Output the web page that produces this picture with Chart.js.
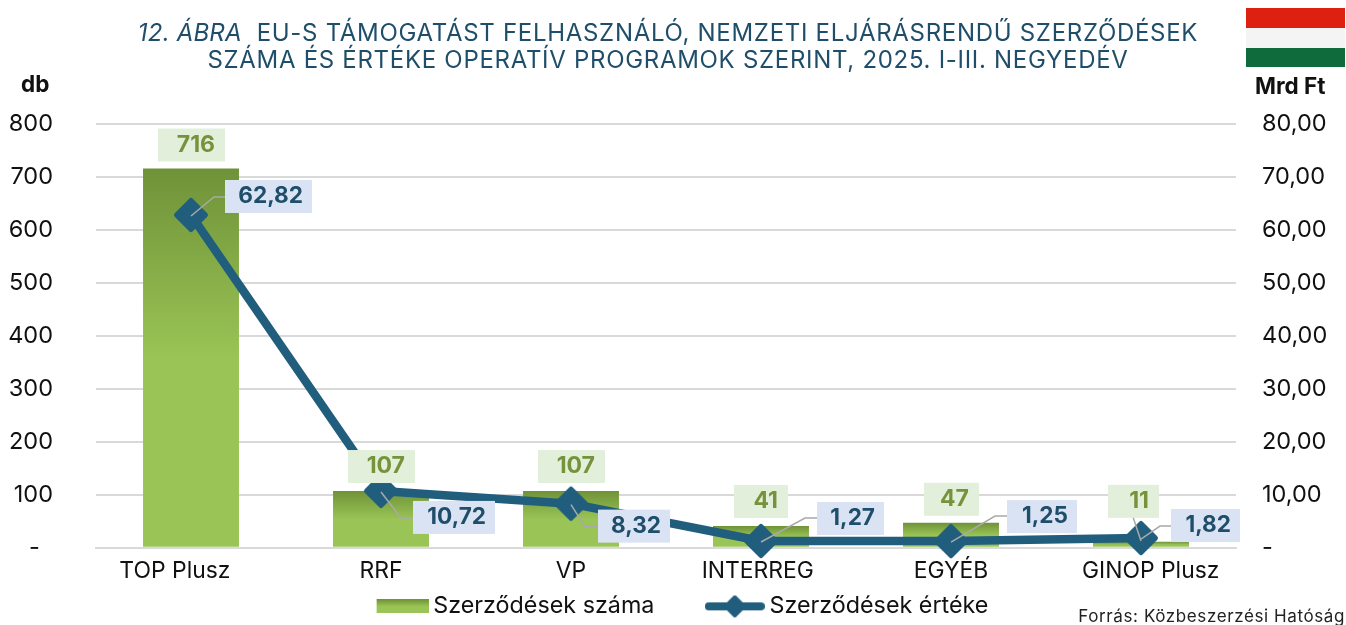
<!DOCTYPE html>
<html lang="hu"><head><meta charset="utf-8">
<style>
html,body{margin:0;padding:0;background:#fff;overflow:hidden}
#wrap{position:relative;width:1346px;height:625px;font-family:Inter,sans-serif}
#c{position:absolute;left:0;top:0}
.t{position:absolute;white-space:nowrap}
#title{left:0;width:1336px;top:19px;text-align:center;color:#1f4e6b;font-size:24px;line-height:27px;font-weight:400;letter-spacing:.7px}
#title i{letter-spacing:.2px}
#flag{position:absolute;left:1246px;top:8px;width:99px;height:59px;background:linear-gradient(#dd2010 0 20px,#f4f4f4 20px 40px,#0f6b3c 40px)}
#db{left:21px;top:70px;font-size:22.5px;font-weight:700;color:#111}
#mrd{left:1255px;top:72px;font-size:22.5px;font-weight:700;color:#111}
#src{right:1px;top:606px;font-size:17px;color:#222;letter-spacing:.6px}
</style></head><body>
<div id="wrap">
<canvas id="c" width="1346" height="625"></canvas>
<div id="title" class="t"><i>12. ÁBRA</i>&nbsp; EU-S TÁMOGATÁST FELHASZNÁLÓ, NEMZETI ELJÁRÁSRENDŰ SZERZŐDÉSEK<br>SZÁMA ÉS ÉRTÉKE OPERATÍV PROGRAMOK SZERINT, 2025. I-III. NEGYEDÉV</div>
<div id="flag"></div>
<div id="db" class="t">db</div>
<div id="mrd" class="t">Mrd Ft</div>
<div id="src" class="t">Forrás: Közbeszerzési Hatóság</div>
</div>
<script src="https://cdn.jsdelivr.net/npm/chart.js@4"></script>
<script>
const categories = ["TOP Plusz","RRF","VP","INTERREG","EGYÉB","GINOP Plusz"];
const contractCount = [716,107,107,41,47,11];
const contractValue = [62.82,10.72,8.32,1.27,1.25,1.82];
const seriesNames = ["Szerződések száma","Szerződések értéke"];

const NAVY="#215e7d", DARK="#6f9238", LIGHT="#9ac455";
const fmt2=v=>v.toFixed(2).replace('.',',');

// label box geometry, relative to the mark's anchor pixel
const countBoxes=[[-33,-40,67,33],[-33,-41,67,33],[-33,-41,67,33],[-27,-41,54,33],[-27,-40,55,33],[-33,-57,51,33,true]];
const valueBoxes=[
 {b:[34,-35,87,33],l:[[23,-18],[34,-18]]},
 {b:[32,10,82,33],l:[[20,27],[32,27]]},
 {b:[27,6,72,33],l:[[14,23],[27,23]]},
 {b:[56,-39,67,33],l:[[44,-23],[56,-23]]},
 {b:[56,-41,70,33],l:[[44,-25],[56,-25]]},
 {b:[30,-29,69,33],l:[[19,-12],[30,-12]]}
];
// whitespace that nudges the category labels off-centre as in the original layout
const tickPad=[['','     '],['',''],['',''],['',' '],['',''],['   ','']];

const labelsPlugin={id:'boxLabels',afterDatasetsDraw(chart){
  const g=chart.ctx, bars=chart.getDatasetMeta(0).data, pts=chart.getDatasetMeta(1).data;
  g.save();
  g.textBaseline='middle'; g.textAlign='right';
  g.lineWidth=1.5; g.strokeStyle='#a9a9a9';
  contractValue.forEach((v,i)=>{
    const p=pts[i], s=valueBoxes[i];
    g.beginPath(); g.moveTo(p.x,p.y+1); s.l.forEach(q=>g.lineTo(p.x+q[0],p.y+q[1])); g.stroke();
  });
  bars.forEach((b,i)=>{
    const s=countBoxes[i];
    if(s[4]){g.beginPath();g.moveTo(b.x-8,pts[i].y-21);g.lineTo(b.x,pts[i].y+3);g.stroke();}
  });
  g.font='700 23px Inter';
  contractCount.forEach((v,i)=>{
    const b=bars[i], s=countBoxes[i], x=b.x+s[0], y=b.y+s[1];
    g.fillStyle='#e2efda'; g.fillRect(x,y,s[2],s[3]);
    g.fillStyle='#76933c'; g.fillText(String(v),x+s[2]-10,y+s[3]/2);
  });
  g.font='700 22.6px Inter';
  contractValue.forEach((v,i)=>{
    const p=pts[i], s=valueBoxes[i].b, x=p.x+s[0], y=p.y+s[1];
    g.fillStyle='#dae3f3'; g.fillRect(x,y,s[2],s[3]);
    g.fillStyle='#1f4e6b'; g.fillText(fmt2(v),x+s[2]-9,y+s[3]/2);
  });
  g.restore();
},
afterLayout(chart){ const l=chart.legend; l.left+=9; l.right+=9; l.top+=3; l.bottom+=3; }
};

function barFill(ctx){
  const ch=ctx.chart;
  if(!ch.scales||!ch.scales.y||ctx.parsed===undefined) return LIGHT;
  const y=ch.scales.y, t=y.getPixelForValue(ctx.parsed.y), b=y.getPixelForValue(0);
  const gr=ch.ctx.createLinearGradient(0,t,0,b);
  gr.addColorStop(0,DARK); gr.addColorStop(.5,LIGHT); gr.addColorStop(1,LIGHT);
  return gr;
}
function diamond(x,cx,cy,r,w){
  x.fillStyle=NAVY;x.strokeStyle=NAVY;x.lineJoin='round';x.lineWidth=w;
  x.beginPath();x.moveTo(cx,cy-r);x.lineTo(cx+r,cy);x.lineTo(cx,cy+r);x.lineTo(cx-r,cy);x.closePath();x.fill();x.stroke();
}
function swatch(kind){
  const c=document.createElement('canvas'); const x=c.getContext('2d');
  if(kind===0){ c.width=60;c.height=14;
    const gr=x.createLinearGradient(0,0,0,14);gr.addColorStop(0,DARK);gr.addColorStop(.5,LIGHT);gr.addColorStop(1,LIGHT);
    x.fillStyle=gr;x.fillRect(8,0,52,14);
  } else { c.width=60;c.height=24;
    x.strokeStyle=NAVY;x.lineCap='round';x.lineWidth=8;x.beginPath();x.moveTo(4,12);x.lineTo(56,12);x.stroke();
    diamond(x,30,12,9,4);
  }
  return c;
}
function marker(){
  const c=document.createElement('canvas'); c.width=38;c.height=38;
  diamond(c.getContext('2d'),19,19,14.5,5);
  return c;
}
const swatches=[swatch(0),swatch(1)];
const legendGap='        ';

new Chart(document.getElementById('c'),{
  data:{labels:categories,datasets:[
    {type:'bar',label:seriesNames[0],data:contractCount,yAxisID:'y',order:2,backgroundColor:barFill,barPercentage:.505,categoryPercentage:1},
    {type:'line',label:seriesNames[1],data:contractValue,yAxisID:'y2',order:1,clip:false,borderColor:NAVY,borderWidth:8.5,tension:0,borderJoinStyle:'round',
     pointStyle:marker(),pointRadius:15,pointBackgroundColor:NAVY,pointBorderColor:NAVY,pointHoverRadius:15}
  ]},
  options:{
    responsive:false,animation:false,
    layout:{padding:{left:0,right:0,top:124,bottom:0}},
    plugins:{title:{display:false},tooltip:{enabled:false},
      legend:{display:true,position:'bottom',
        labels:{usePointStyle:true,pointStyleWidth:46,boxHeight:20,padding:5,color:'#111',font:{family:'Inter',size:23.3},
          generateLabels:ch=>ch.data.datasets.map((d,i)=>({text:i===0?d.label+legendGap:d.label,pointStyle:swatches[i],fontColor:'#111',lineWidth:0,datasetIndex:i}))}}},
    scales:{
      x:{grid:{display:false},border:{color:'#d9d9d9',width:2},afterFit(s){s.height=39;},
         ticks:{color:'#111',font:{family:'Inter',size:22.9},padding:2,maxRotation:0,
           callback(v,i){const l=this.getLabelForValue(v);return tickPad[i][0]+l+tickPad[i][1];}}},
      y:{position:'left',min:0,max:800,
         afterFit(s){s.width=96;},
         grid:{color:'#d9d9d9',lineWidth:2,drawTicks:false},border:{display:false},
         ticks:{stepSize:100,padding:43,color:'#111',font:{family:'Inter',size:23.5},callback:v=>v===0?'-  ':String(v)}},
      y2:{position:'right',min:0,max:80,
         afterFit(s){s.width=110;},
         grid:{display:false,drawTicks:false},border:{display:false},
         ticks:{stepSize:10,padding:26,color:'#111',font:{family:'Inter',size:23.5},callback:v=>v===0?'-':fmt2(v)}}
    }
  },
  plugins:[labelsPlugin]
});
</script></body></html>
